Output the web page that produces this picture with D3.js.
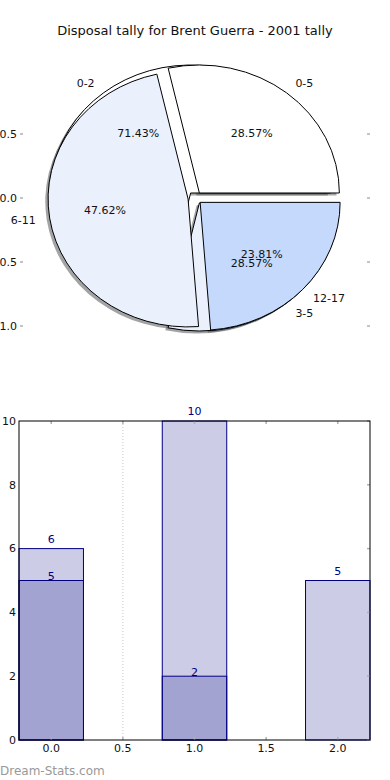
<!DOCTYPE html>
<html>
<head>
<meta charset="utf-8">
<script src="https://cdn.jsdelivr.net/npm/d3@7"></script>
<style>
  body { margin: 0; background: #fff; }
  text { font-family: "DejaVu Sans", sans-serif; }
</style>
</head>
<body>
<svg id="chart" width="390" height="780"></svg>
<script>
// pie data (two pies drawn on the same axes)
const pieLabelsA = ["0-2", "3-5"];
const pieValuesA = [5, 2];
const pieColorsA = ["#ffffff", "#eaf0fc"];
const pieLabelsB = ["0-5", "6-11", "12-17"];
const pieValuesB = [6, 10, 5];
const pieColorsB = ["#ffffff", "#eaf0fc", "#c5d9fc"];
const pieYTicks = [0.5, 0.0, -0.5, -1.0];

// bar data
const barCats = [0, 1, 2];
const barLight = [6, 10, 5];
const barDark = [5, 2];
const barYTicks = [0, 2, 4, 6, 8, 10];
const barXTicks = [0, 0.5, 1, 1.5, 2];

const svg = d3.select("#chart");
const title = "Disposal tally for Brent Guerra - 2001 tally";

svg.append("text")
  .attr("x", 195).attr("y", 35)
  .attr("text-anchor", "middle")
  .attr("font-size", 13)
  .attr("fill", "#111")
  .text(title);

// ---- pie ----
const px = d3.scaleLinear().domain([-1, 1]).range([55, 335]);
const py = d3.scaleLinear().domain([-1, 1]).range([326, 70]);
const rx = px(1) - px(0);
const ry = py(-1) - py(0);
const explode = 0.05;
const pctFmt = d3.format(".2f");

const pie = d3.pie().sort(null).startAngle(Math.PI / 2).endAngle(Math.PI / 2 - 2 * Math.PI);
const arc = d3.arc().innerRadius(0).outerRadius(1);

function wedges(values, labels, colors) {
  return pie(values).map((d, i) => {
    // matplotlib angle (ccw from +x) of the wedge middle
    const mid = Math.PI / 2 - (d.startAngle + d.endAngle) / 2;
    return {
      d, mid,
      label: labels[i],
      color: colors[i],
      frac: d.value / d3.sum(values),
      ox: px(explode * Math.cos(mid)) ,
      oy: py(explode * Math.sin(mid))
    };
  });
}

const allA = wedges(pieValuesA, pieLabelsA, pieColorsA);
const allB = wedges(pieValuesB, pieLabelsB, pieColorsB);
const pieG = svg.append("g");

// shadows sit under every wedge
const shadowG = pieG.append("g");
[...allA, ...allB].forEach(w => {
  const c = d3.color(w.color);
  shadowG.append("path")
    .attr("d", arc(w.d))
    .attr("transform", `translate(${w.ox - 0.02 * rx},${w.oy + 0.02 * ry}) scale(${rx},${ry})`)
    .attr("fill", d3.rgb(c.r * 0.3, c.g * 0.3, c.b * 0.3))
    .attr("fill-opacity", 0.5);
});

const wedgeG = pieG.append("g");
[...allA, ...allB].forEach(w => {
  wedgeG.append("path")
    .attr("d", arc(w.d))
    .attr("transform", `translate(${w.ox},${w.oy}) scale(${rx},${ry})`)
    .attr("fill", w.color)
    .attr("stroke", "#000")
    .attr("stroke-width", 1)
    .attr("vector-effect", "non-scaling-stroke");
});

const textG = pieG.append("g").attr("font-size", 11).attr("fill", "#111");
[...allA, ...allB].forEach(w => {
  const cos = Math.cos(w.mid), sin = Math.sin(w.mid);
  textG.append("text")
    .attr("x", px((explode + 1.1) * cos))
    .attr("y", py((explode + 1.1) * sin))
    .attr("dy", "0.35em")
    .attr("text-anchor", cos >= 0 ? "start" : "end")
    .text(w.label);
  textG.append("text")
    .attr("x", px((explode + 0.6) * cos))
    .attr("y", py((explode + 0.6) * sin))
    .attr("dy", "0.35em")
    .attr("text-anchor", "middle")
    .text(pctFmt(w.frac * 100) + "%");
});

// pie y ticks
const pieTickG = svg.append("g");
pieYTicks.forEach(t => {
  pieTickG.append("line").attr("x1", 20).attr("x2", 23).attr("y1", py(t)).attr("y2", py(t))
    .attr("stroke", "#b0b0b0").attr("stroke-width", 1.5);
  pieTickG.append("line").attr("x1", 367).attr("x2", 370).attr("y1", py(t)).attr("y2", py(t))
    .attr("stroke", "#b0b0b0").attr("stroke-width", 1.5);
  pieTickG.append("text")
    .attr("x", 17).attr("y", py(t)).attr("dy", "0.35em")
    .attr("text-anchor", "end").attr("font-size", 11).attr("fill", "#111")
    .text(t.toFixed(1));
});

// ---- bars ----
const bx = d3.scaleLinear().domain([-0.225, 2.225]).range([19, 370]);
const by = d3.scaleLinear().domain([0, 10]).range([740, 421]);
const barW = 0.45;
const navy = "#000080";
const barG = svg.append("g");

barG.append("line")
  .attr("x1", bx(0.5)).attr("x2", bx(0.5))
  .attr("y1", by(10)).attr("y2", by(0))
  .attr("stroke", "#c8c8c8").attr("stroke-dasharray", "1,2");

function drawBars(vals, baseOff) {
  vals.forEach((v, i) => {
    barG.append("rect")
      .attr("x", bx(barCats[i] - barW / 2)).attr("y", by(v))
      .attr("width", bx(barW) - bx(0)).attr("height", by(0) - by(v))
      .attr("fill", navy).attr("fill-opacity", 0.2)
      .attr("stroke", navy).attr("stroke-width", 1);
  });
  vals.forEach((v, i) => {
    barG.append("text")
      .attr("x", bx(barCats[i])).attr("y", by(v) + baseOff)
      .attr("text-anchor", "middle").attr("font-size", 11).attr("fill", navy)
      .text(v);
  });
}
drawBars(barLight, -6);
drawBars(barDark, -0.5);

// ticks on the frame
barXTicks.forEach(t => {
  barG.append("line").attr("x1", bx(t)).attr("x2", bx(t)).attr("y1", by(10)).attr("y2", by(10) + 3)
    .attr("stroke", "#b0b0b0").attr("stroke-width", 1.5);
  barG.append("line").attr("x1", bx(t)).attr("x2", bx(t)).attr("y1", by(0)).attr("y2", by(0) - 3)
    .attr("stroke", "#b0b0b0").attr("stroke-width", 1.5);
  barG.append("text")
    .attr("x", bx(t)).attr("y", 752)
    .attr("text-anchor", "middle").attr("font-size", 11).attr("fill", "#111")
    .text(t.toFixed(1));
});
barYTicks.forEach(t => {
  barG.append("line").attr("x1", 370).attr("x2", 367).attr("y1", by(t)).attr("y2", by(t))
    .attr("stroke", "#b0b0b0").attr("stroke-width", 1.5);
  barG.append("text")
    .attr("x", 16).attr("y", by(t)).attr("dy", "0.35em")
    .attr("text-anchor", "end").attr("font-size", 11).attr("fill", "#111")
    .text(t);
});

barG.append("rect")
  .attr("x", bx(-0.225)).attr("y", by(10))
  .attr("width", bx(2.225) - bx(-0.225)).attr("height", by(0) - by(10))
  .attr("fill", "none").attr("stroke", "#000").attr("stroke-width", 1);

svg.append("text")
  .attr("x", 0).attr("y", 775)
  .attr("font-size", 12).attr("fill", "#999")
  .text("Dream-Stats.com");
</script>
</body>
</html>
